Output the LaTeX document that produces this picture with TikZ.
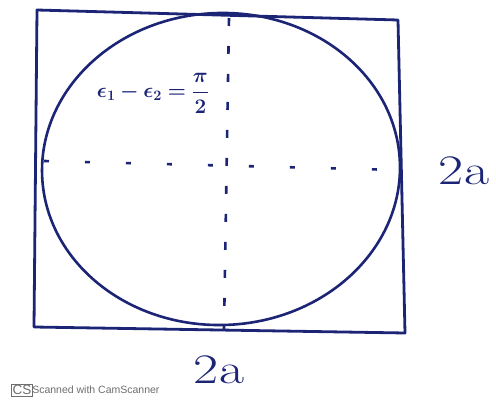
\documentclass[tikz,border=0pt]{standalone}
\usepackage{amsmath}
\usepackage{bm}
\usepackage{fontspec}
\newfontfamily\wmfont{Liberation Sans}
\definecolor{ink}{RGB}{28,36,118}
\definecolor{wm}{RGB}{110,110,110}
\begin{document}
\begin{tikzpicture}[x=1pt,y=-1pt,
  inkline/.style={draw=ink,line width=2.8pt,line join=round,line cap=round},
  dashh/.style={draw=ink,line width=2.6pt,dash pattern=on 5pt off 36pt},
  dashv/.style={draw=ink,line width=2.6pt,dash pattern=on 8pt off 20pt},
  lbl/.style={text=ink,inner sep=0pt}]
\useasboundingbox (0,0) rectangle (496,401);
\fill[white] (0,0) rectangle (496,401);
% rectangle corners
\coordinate (TL) at (37,10);
\coordinate (TR) at (398,20);
\coordinate (BR) at (405,333);
\coordinate (BL) at (34,327);
\draw[inkline] (TL) -- (TR) -- (BR) -- (BL) -- cycle;
% ellipse
\coordinate (C) at (221,169);
\draw[inkline,line width=2.6pt] (C) ellipse[x radius=179,y radius=156,rotate=2];
% axes
\coordinate (L) at (44,161);
\coordinate (R) at (398,170);
\coordinate (T) at (229,18);
\coordinate (B) at (224,330);
\draw[dashh] (L) -- (R);
\draw[dashv] (T) -- (B);
% labels
\node[lbl] (eq) at (153,93) {\fontsize{21.5}{26}\selectfont$\displaystyle\bm{\epsilon_1-\epsilon_2=\frac{\pi}{2}}$};
\node[lbl,xscale=1.3] (ar) at (464,171) {\fontsize{42}{46}\selectfont 2a};
\node[lbl,xscale=1.3] (ab) at (219,370) {\fontsize{42}{46}\selectfont 2a};
% watermark
\node[draw=wm,fill=white,line width=0.9pt,inner sep=1.2pt,text=wm,anchor=west] (cs) at (11,390) {\wmfont\fontsize{13.5}{13.5}\selectfont CS};
\node[text=wm,anchor=west,inner sep=0pt] (scn) at ([xshift=-1pt]cs.east) {\wmfont\fontsize{10.5}{11}\selectfont Scanned with CamScanner};
\end{tikzpicture}
\end{document}
